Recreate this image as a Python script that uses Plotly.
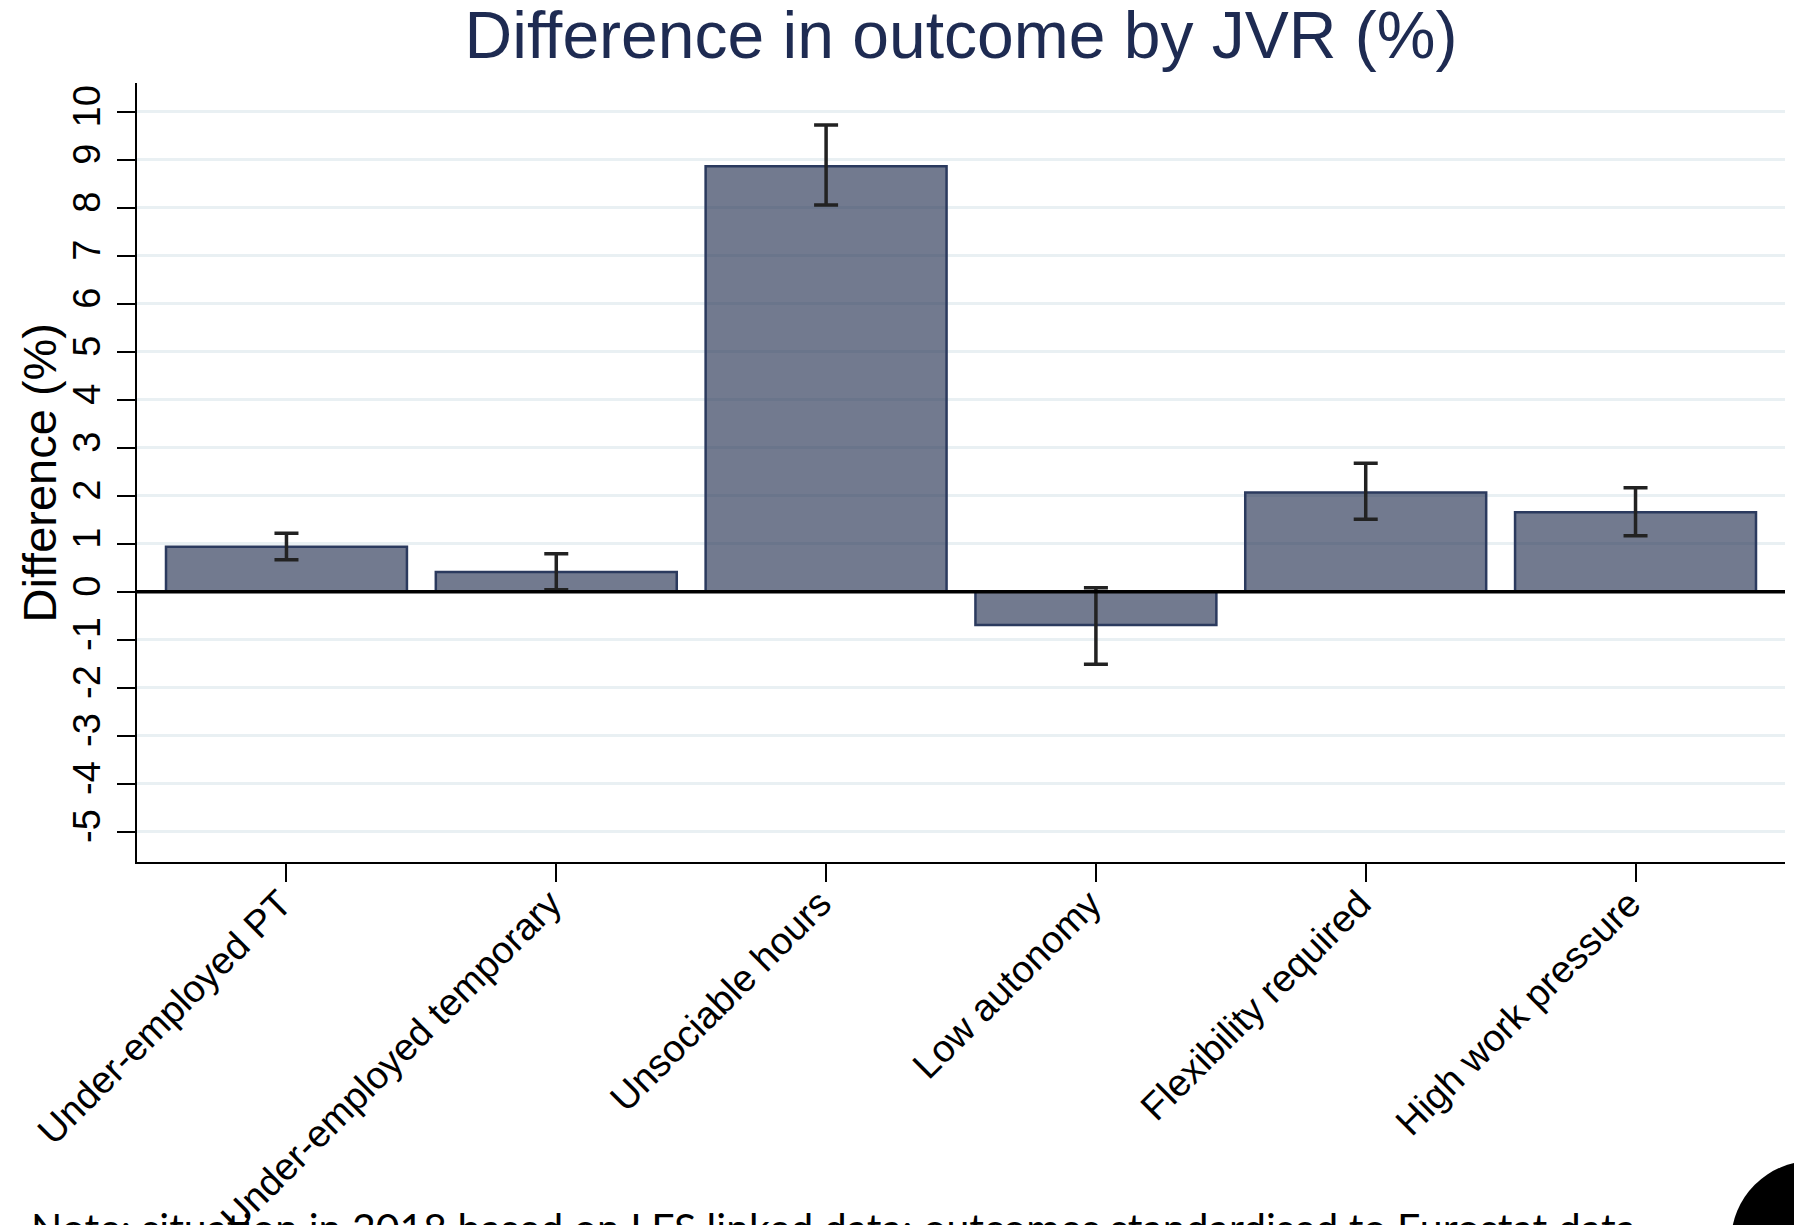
import plotly.graph_objects as go

# Job-vacancy-related outcome differences with 95% confidence bounds
categories = [
    "Under-employed PT",
    "Under-employed temporary",
    "Unsociable hours",
    "Low autonomy",
    "Flexibility required",
    "High work pressure",
]
difference = [0.94, 0.41, 8.87, -0.69, 2.07, 1.66]
ci_upper = [1.22, 0.79, 9.73, 0.085, 2.68, 2.17]
ci_lower = [0.67, 0.04, 8.06, -1.51, 1.51, 1.17]
y_ticks = list(range(-5, 11))
y_tick_labels = [str(v) for v in y_ticks]  # plain hyphen for negatives

title_text = "Difference in outcome by JVR (%)"
y_title = "Difference (%)"
note_text = "Note: situation in 2018 based on LFS linked data; outcomes standardised to Eurostat data"

err_plus = [u - v for u, v in zip(ci_upper, difference)]
err_minus = [v - l for v, l in zip(difference, ci_lower)]

W, H = 1794, 1225
L, R, T, B = 137, 9, 83, 363
pw, ph = W - L - R, H - T - B


def px_x(px):
    return (px - L) / pw


def px_y(py):
    return (H - B - py) / ph


NAVY = "#1e2b52"
SANS = "Liberation Sans, Arial, sans-serif"

fig = go.Figure()
fig.add_trace(go.Bar(
    x=categories,
    y=difference,
    width=0.893,
    marker=dict(color="rgba(31,45,78,0.63)", line=dict(color="#2b3a5e", width=2.5)),
    error_y=dict(
        type="data",
        symmetric=False,
        array=err_plus,
        arrayminus=err_minus,
        color="#222222",
        thickness=3.5,
        width=12,
    ),
    showlegend=False,
))

fig.update_layout(
    width=W,
    height=H,
    margin=dict(l=L, r=R, t=T, b=B, pad=0, autoexpand=False),
    paper_bgcolor="white",
    plot_bgcolor="white",
    font=dict(family=SANS, color="black"),
    title=dict(
        text=title_text,
        font=dict(size=66, color=NAVY, family=SANS),
        x=px_x((L + W - R) / 2), xref="paper", xanchor="center",
        y=1 - 35 / H, yref="container", yanchor="middle",
    ),
    xaxis=dict(
        range=[-0.554, 5.554], automargin=False,
        showline=True, linecolor="black", linewidth=2.3,
        ticks="outside", ticklen=18, tickwidth=2, tickcolor="black",
        tickangle=-45, tickfont=dict(size=38, family=SANS, color="black"),
        ticklabelstandoff=-16, ticklabelshift=-6,
        showgrid=False, zeroline=False,
    ),
    yaxis=dict(
        range=[-5.632, 10.604], automargin=False,
        tickmode="array", tickvals=y_ticks, ticktext=y_tick_labels,
        showline=True, linecolor="black", linewidth=2,
        ticks="outside", ticklen=18, tickwidth=2, tickcolor="black",
        tickangle=-90, tickfont=dict(size=38, family=SANS, color="black"),
        ticklabelstandoff=2,
        showgrid=True, gridcolor="#e9f0f3", gridwidth=3,
        zeroline=False,
    ),
    bargap=0.107,
    shapes=[
        # zero reference line drawn over the bars
        dict(type="line", xref="paper", yref="y", x0=0, x1=1, y0=0, y1=0,
             line=dict(color="black", width=3.5), layer="above"),
        # badge in the lower-right corner
        dict(type="circle", xref="paper", yref="paper",
             x0=px_x(1812 - 81), x1=px_x(1812 + 81),
             y0=px_y(1242 + 81), y1=px_y(1242 - 81),
             fillcolor="black", line=dict(color="black", width=0), layer="above"),
    ],
    annotations=[
        dict(text=y_title, textangle=-90, xref="paper", yref="paper",
             x=px_x(39), y=0.5, xanchor="center", yanchor="middle",
             showarrow=False, font=dict(size=47, color="black", family=SANS)),
        dict(text=note_text, xref="paper", yref="paper",
             x=px_x(29), y=px_y(1201), xanchor="left", yanchor="top",
             showarrow=False, font=dict(size=41, color="black", family="Lato, sans-serif")),
    ],
)

fig.write_html("out.html")
